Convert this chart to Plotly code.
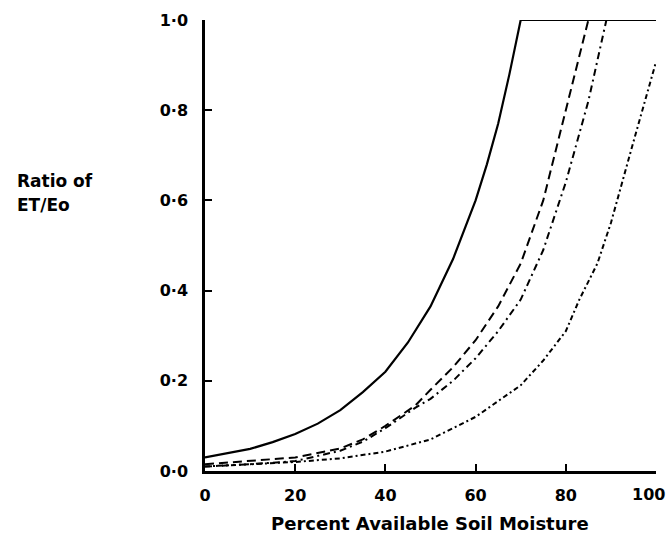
import plotly.graph_objects as go

# Percent available soil moisture (x) and ET/Eo ratio (y) for four curves
x_solid = [0, 5, 10, 15, 20, 25, 30, 35, 40, 45, 50, 55, 60, 62.5, 65, 67.5, 70, 100]
y_solid = [0.03, 0.039, 0.049, 0.064, 0.082, 0.105, 0.135, 0.175, 0.22, 0.285, 0.365, 0.47, 0.60, 0.68, 0.77, 0.88, 1.0, 1.0]

x_dash = [0, 10, 20, 30, 35, 40, 46.6, 50, 55, 60, 65, 70, 75, 80, 85, 100]
y_dash = [0.015, 0.022, 0.03, 0.05, 0.07, 0.10, 0.145, 0.18, 0.23, 0.29, 0.365, 0.46, 0.60, 0.80, 1.0, 1.0]

x_dashdot = [0, 10, 20, 30, 35, 40, 46.6, 50, 55, 60, 65, 70, 75, 80, 85, 89, 100]
y_dashdot = [0.01, 0.015, 0.022, 0.045, 0.065, 0.095, 0.14, 0.16, 0.20, 0.25, 0.31, 0.38, 0.49, 0.64, 0.82, 1.0, 1.0]

x_dot = [0, 10, 20, 30, 40, 50, 60, 70, 75, 80, 83, 87, 90, 95, 100]
y_dot = [0.01, 0.015, 0.02, 0.028, 0.043, 0.07, 0.12, 0.19, 0.245, 0.31, 0.38, 0.46, 0.55, 0.73, 0.907]

x_ticks = [0, 20, 40, 60, 80, 100]
x_ticklabels = ["0", "20", "40", "60", "80", "100"]
y_ticks = [0.0, 0.2, 0.4, 0.6, 0.8, 1.0]
y_ticklabels = ["0·0", "0·2", "0·4", "0·6", "0·8", "1·0"]

FONT = "DejaVu Sans"
TICKFONT = dict(family=FONT, size=16, weight="bold")

fig = go.Figure()
fig.add_trace(go.Scatter(x=x_solid, y=y_solid, mode="lines", line=dict(color="black", width=2.2), cliponaxis=False))
fig.add_trace(go.Scatter(x=x_dash, y=y_dash, mode="lines", line=dict(color="black", width=2, dash="9px,5px"), cliponaxis=False))
fig.add_trace(go.Scatter(x=x_dashdot, y=y_dashdot, mode="lines", line=dict(color="black", width=2, dash="7px,4px,2px,4px"), cliponaxis=False))
fig.add_trace(go.Scatter(x=x_dot, y=y_dot, mode="lines", line=dict(color="black", width=2, dash="5px,3px,2px,3px"), cliponaxis=False))

# last x tick label is drawn as an annotation anchored on its right so it stays inside the page
shown_x_labels = x_ticklabels[:-1] + [""]

fig.update_layout(
    width=668, height=538,
    margin=dict(l=205, r=12, t=20, b=67, autoexpand=False),
    paper_bgcolor="white", plot_bgcolor="white",
    showlegend=False,
    font=dict(family=FONT, color="black", size=16),
    xaxis=dict(range=[0, 100], tickvals=x_ticks, ticktext=shown_x_labels,
               ticks="inside", ticklen=7, tickwidth=2, tickcolor="black",
               showline=True, linecolor="black", linewidth=2.5, showgrid=False, zeroline=False,
               tickfont=TICKFONT, ticklabelstandoff=8,
               automargin=False, fixedrange=True),
    yaxis=dict(range=[0, 1], tickvals=y_ticks, ticktext=y_ticklabels,
               ticks="inside", ticklen=7, tickwidth=2, tickcolor="black",
               showline=True, linecolor="black", linewidth=2.5, showgrid=False, zeroline=False,
               tickfont=TICKFONT, ticklabelstandoff=11,
               ticklabeloverflow="allow", automargin=False, fixedrange=True),
    annotations=[
        dict(text=x_ticklabels[-1], xref="x", yref="paper", x=x_ticks[-1], y=-0.053,
             xanchor="right", yanchor="middle", xshift=11, showarrow=False, font=TICKFONT),
        dict(text="Ratio of", xref="paper", yref="paper", x=-0.421, y=0.643,
             xanchor="left", yanchor="middle", align="left", showarrow=False,
             font=dict(family=FONT, size=17, weight="bold")),
        dict(text="ET/Eo", xref="paper", yref="paper", x=-0.421, y=0.590,
             xanchor="left", yanchor="middle", align="left", showarrow=False,
             font=dict(family=FONT, size=17, weight="bold")),
        dict(text="Percent Available Soil Moisture", xref="paper", yref="paper", x=0.499, y=-0.1175,
             xanchor="center", yanchor="middle", showarrow=False,
             font=dict(family=FONT, size=18, weight="bold")),
    ],
)

fig.write_html("out.html")
